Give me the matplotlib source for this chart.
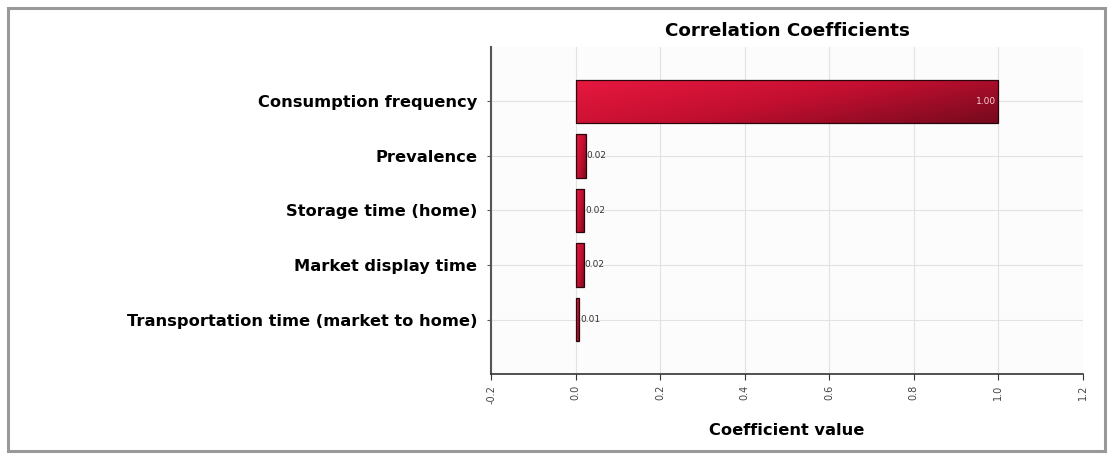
import matplotlib.pyplot as plt
import numpy as np
from matplotlib.colors import LinearSegmentedColormap
from matplotlib.patches import Rectangle

# data
factors = ['Consumption frequency', 'Prevalence', 'Storage time (home)',
           'Market display time', 'Transportation time (market to home)']
coefs = [1.00, 0.024, 0.021, 0.019, 0.009]
coef_labels = ['1.00', '0.02', '0.02', '0.02', '0.01']
xticks = [-0.2, 0.0, 0.2, 0.4, 0.6, 0.8, 1.0, 1.2]

plt.rcParams['font.family'] = ['DejaVu Sans']

fig = plt.figure(figsize=(11.15, 4.54), dpi=100)
ax = fig.add_axes([0.4404, 0.1762, 0.5309, 0.7203])

# outer frame of the picture
fig.patches.append(Rectangle((8 / 1115, 3 / 454), 1097 / 1115, 443 / 454,
                             transform=fig.transFigure, fill=False,
                             edgecolor='#999999', linewidth=2.2))

y = np.arange(len(factors))
bars = ax.barh(y, coefs, height=0.8, color='none', edgecolor='#2a060c',
               linewidth=0.9, zorder=4)

# gradient fill inside each bar
cmap = LinearSegmentedColormap.from_list('redgrad', ['#e8183f', '#c20f30', '#760a1d'])
gx, gy = np.meshgrid(np.linspace(0, 1, 200), np.linspace(0, 1, 50))
grad = gx * 0.65 + gy * 0.35
for b in bars:
    x0, y0 = b.get_x(), b.get_y()
    w, h = b.get_width(), b.get_height()
    im = ax.imshow(grad, cmap=cmap, extent=[x0, x0 + w, y0 + h, y0],
                   aspect='auto', zorder=3, interpolation='bilinear')
    im.set_clip_path(b)

for i, (v, lab) in enumerate(zip(coefs, coef_labels)):
    if v > 0.5:
        ax.text(v - 0.006, i, lab, ha='right', va='center', fontsize=6.5,
                color='#f4d0d6', zorder=5)
    else:
        ax.text(v + 0.002, i, lab, ha='left', va='center', fontsize=6.5,
                color='#333333', zorder=5)

ax.set_xlim(-0.2, 1.2)
ax.set_ylim(len(factors), -1)
ax.set_xticks(xticks)
ax.set_xticklabels(['%.1f' % t for t in xticks], rotation=90, fontsize=7,
                   color='#444444')
ax.set_yticks(y)
ax.set_yticklabels(factors, fontsize=11.7, fontweight='bold')
ax.tick_params(axis='y', length=3, pad=7, color='#555555')
ax.tick_params(axis='x', length=4, pad=4, color='#333333')

ax.set_facecolor('#fcfcfc')
ax.grid(True, color='#e2e2e2', linewidth=0.8, zorder=0)
ax.set_axisbelow(True)
for s in ['top', 'right']:
    ax.spines[s].set_visible(False)
ax.spines['left'].set_color('#555555')
ax.spines['left'].set_linewidth(1.5)
ax.spines['bottom'].set_color('#333333')
ax.spines['bottom'].set_linewidth(1.2)

ax.set_title('Correlation Coefficients', fontsize=13.2, fontweight='bold', pad=8)
ax.set_xlabel('Coefficient value', fontsize=11.7, fontweight='bold', labelpad=14)

fig.savefig('out.png', dpi=100)
